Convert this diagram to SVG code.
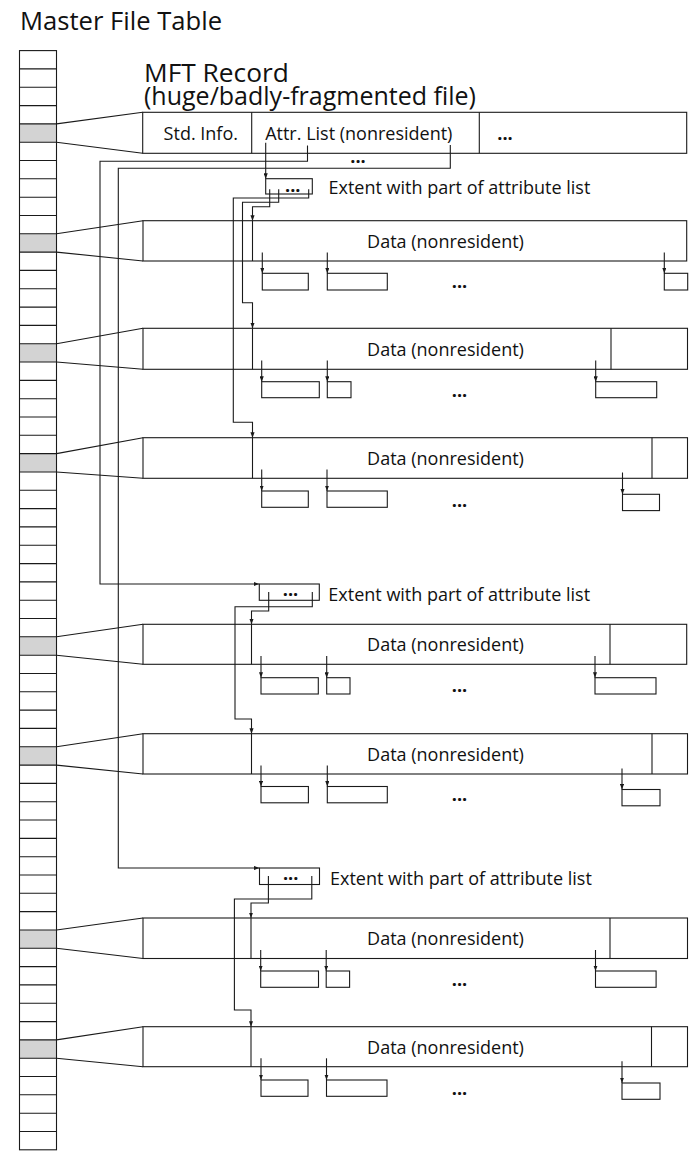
<svg xmlns="http://www.w3.org/2000/svg" width="698" height="1151" viewBox="0 0 698 1151">
  <defs>
    <style>
      .box { fill: #fff; stroke: #1a1a1a; stroke-width: 1.1; }
      .ln { fill: none; stroke: #1a1a1a; stroke-width: 1.1; }
      .arr { fill: none; stroke: #1a1a1a; stroke-width: 1.1; marker-end: url(#ah); }
      .slot { fill: #d3d3d3; }
      text { font-family: "Open Sans", "Noto Sans", "Liberation Sans", sans-serif; fill: #111; }
      .lbl { font-size: 18px; }
      .mid { text-anchor: middle; }
      .dots { font-size: 18px; font-weight: bold; text-anchor: middle; }
      .title { font-size: 25.6px; }
      .head { font-size: 26.3px; }
      .head2 { font-size: 25px; }
    </style>
    <marker id="ah" viewBox="0 0 8 6" refX="8" refY="3" markerWidth="5.5" markerHeight="4.2" markerUnits="userSpaceOnUse" orient="auto">
      <path d="M0,0 L8,3 L0,6 Z" fill="#1a1a1a"/>
    </marker>
  </defs>

  <rect width="698" height="1151" fill="#fff"/>

  <text class="title" x="20" y="30">Master File Table</text>

  <!-- MFT: 60 fixed-size record slots, shaded slots belong to the file -->
  <g id="mft-table">
    <rect class="slot" x="19.5" y="123.9" width="37" height="18.3"/>
    <rect class="slot" x="19.5" y="233.8" width="37" height="18.3"/>
    <rect class="slot" x="19.5" y="343.7" width="37" height="18.3"/>
    <rect class="slot" x="19.5" y="453.6" width="37" height="18.3"/>
    <rect class="slot" x="19.5" y="636.8" width="37" height="18.3"/>
    <rect class="slot" x="19.5" y="746.8" width="37" height="18.3"/>
    <rect class="slot" x="19.5" y="930" width="37" height="18.3"/>
    <rect class="slot" x="19.5" y="1039.9" width="37" height="18.3"/>
    <rect class="ln" x="19.5" y="50.6" width="37" height="1099.2"/>
    <path class="ln" d="M19.5,68.9H56.5M19.5,87.2H56.5M19.5,105.6H56.5M19.5,123.9H56.5M19.5,142.2H56.5M19.5,160.5H56.5M19.5,178.8H56.5M19.5,197.2H56.5M19.5,215.5H56.5M19.5,233.8H56.5M19.5,252.1H56.5M19.5,270.4H56.5M19.5,288.8H56.5M19.5,307.1H56.5M19.5,325.4H56.5M19.5,343.7H56.5M19.5,362H56.5M19.5,380.4H56.5M19.5,398.7H56.5M19.5,417H56.5M19.5,435.3H56.5M19.5,453.6H56.5M19.5,472H56.5M19.5,490.3H56.5M19.5,508.6H56.5M19.5,526.9H56.5M19.5,545.2H56.5M19.5,563.6H56.5M19.5,581.9H56.5M19.5,600.2H56.5M19.5,618.5H56.5M19.5,636.8H56.5M19.5,655.2H56.5M19.5,673.5H56.5M19.5,691.8H56.5M19.5,710.1H56.5M19.5,728.4H56.5M19.5,746.8H56.5M19.5,765.1H56.5M19.5,783.4H56.5M19.5,801.7H56.5M19.5,820H56.5M19.5,838.4H56.5M19.5,856.7H56.5M19.5,875H56.5M19.5,893.3H56.5M19.5,911.6H56.5M19.5,930H56.5M19.5,948.3H56.5M19.5,966.6H56.5M19.5,984.9H56.5M19.5,1003.2H56.5M19.5,1021.6H56.5M19.5,1039.9H56.5M19.5,1058.2H56.5M19.5,1076.5H56.5M19.5,1094.8H56.5M19.5,1113.2H56.5M19.5,1131.5H56.5"/>
  </g>

  <!-- base MFT record of the file -->
  <g id="mft-record">
    <text x="144" y="81.5"><tspan class="head">MFT Record</tspan><tspan class="head2" x="144" dy="23">(huge/badly-fragmented file)</tspan></text>
    <rect class="box" x="142.7" y="112.3" width="544" height="41"/>
    <line class="ln" x1="251.7" y1="112.3" x2="251.7" y2="153.3"/>
    <line class="ln" x1="479.3" y1="112.3" x2="479.3" y2="153.3"/>
    <text class="lbl mid" x="200.8" y="139.5">Std. Info.</text>
    <text class="lbl mid" x="358.8" y="139.5">Attr. List (nonresident)</text>
    <text class="dots" x="505" y="139.5">...</text>
    <text class="dots" x="358" y="162.5">...</text>
  </g>

  <!-- extents holding parts of the attribute list -->
  <g id="extent-1">
    <rect class="box" x="265.7" y="178.7" width="46.6" height="15.3"/>
    <text class="dots" x="292.8" y="191.5">...</text>
    <text class="lbl" x="328.5" y="194.3">Extent with part of attribute list</text>
  </g>
  <g id="extent-2">
    <rect class="box" x="259.3" y="584" width="60" height="16.3"/>
    <text class="dots" x="290.5" y="595.5">...</text>
    <text class="lbl" x="328.3" y="600.5">Extent with part of attribute list</text>
  </g>
  <g id="extent-3">
    <rect class="box" x="259.5" y="868" width="60" height="16.5"/>
    <text class="dots" x="290.6" y="879.8">...</text>
    <text class="lbl" x="330" y="884.5">Extent with part of attribute list</text>
  </g>

  <!-- data attribute records with their runs -->
  <g id="data-1">
    <rect class="box" x="143" y="220.7" width="543.7" height="40.3"/>
    <line class="ln" x1="252.5" y1="220.7" x2="252.5" y2="261"/>
    <text class="lbl mid" x="445.5" y="248">Data (nonresident)</text>
    <rect class="box" x="262.3" y="273.3" width="46" height="16.7"/>
    <rect class="box" x="327.3" y="273.3" width="60" height="16.7"/>
    <rect class="box" x="664.3" y="273.3" width="23.4" height="16.7"/>
    <text class="dots" x="459.5" y="288.2">...</text>
  </g>
  <g id="data-2">
    <rect class="box" x="143" y="328.3" width="544.5" height="41"/>
    <line class="ln" x1="252.5" y1="328.3" x2="252.5" y2="369.3"/>
    <line class="ln" x1="611" y1="328.3" x2="611" y2="369.3"/>
    <text class="lbl mid" x="445.5" y="355.8">Data (nonresident)</text>
    <rect class="box" x="261.7" y="381.7" width="57.6" height="16"/>
    <rect class="box" x="327.3" y="381.7" width="23.7" height="16"/>
    <rect class="box" x="595.7" y="381.7" width="61" height="16"/>
    <text class="dots" x="459.5" y="396.5">...</text>
  </g>
  <g id="data-3">
    <rect class="box" x="143" y="437.7" width="544.5" height="40.6"/>
    <line class="ln" x1="252.5" y1="437.7" x2="252.5" y2="478.3"/>
    <line class="ln" x1="652" y1="437.7" x2="652" y2="478.3"/>
    <text class="lbl mid" x="445.5" y="465">Data (nonresident)</text>
    <rect class="box" x="261.7" y="491" width="46.6" height="16.3"/>
    <rect class="box" x="327" y="491" width="60.3" height="16.3"/>
    <rect class="box" x="622.5" y="494.3" width="37" height="16.3"/>
    <text class="dots" x="459.5" y="506.5">...</text>
  </g>
  <g id="data-4">
    <rect class="box" x="143" y="624.3" width="543.7" height="40"/>
    <line class="ln" x1="251.5" y1="624.3" x2="251.5" y2="664.3"/>
    <line class="ln" x1="610" y1="624.3" x2="610" y2="664.3"/>
    <text class="lbl mid" x="445.5" y="651.3">Data (nonresident)</text>
    <rect class="box" x="261" y="677.7" width="57.3" height="16.3"/>
    <rect class="box" x="326.7" y="677.7" width="23.3" height="16.3"/>
    <rect class="box" x="595" y="677.7" width="61" height="16.3"/>
    <text class="dots" x="459.5" y="691.5">...</text>
  </g>
  <g id="data-5">
    <rect class="box" x="143" y="733.7" width="544.5" height="40.3"/>
    <line class="ln" x1="251.5" y1="733.7" x2="251.5" y2="774"/>
    <line class="ln" x1="652" y1="733.7" x2="652" y2="774"/>
    <text class="lbl mid" x="445.5" y="761">Data (nonresident)</text>
    <rect class="box" x="261" y="786.5" width="47.4" height="16.3"/>
    <rect class="box" x="327.3" y="786.5" width="60" height="16.3"/>
    <rect class="box" x="622" y="789.5" width="38" height="16.3"/>
    <text class="dots" x="459.5" y="800.8">...</text>
  </g>
  <g id="data-6">
    <rect class="box" x="143" y="918" width="544.5" height="40.5"/>
    <line class="ln" x1="251" y1="918" x2="251" y2="958.5"/>
    <line class="ln" x1="610" y1="918" x2="610" y2="958.5"/>
    <text class="lbl mid" x="445.5" y="945.3">Data (nonresident)</text>
    <rect class="box" x="260.7" y="971" width="57.8" height="16.3"/>
    <rect class="box" x="326.2" y="971" width="23.4" height="16.3"/>
    <rect class="box" x="595.5" y="971" width="60.6" height="16.3"/>
    <text class="dots" x="459.5" y="985.5">...</text>
  </g>
  <g id="data-7">
    <rect class="box" x="143" y="1026.7" width="544.5" height="40"/>
    <line class="ln" x1="251" y1="1026.7" x2="251" y2="1066.7"/>
    <line class="ln" x1="651.5" y1="1026.7" x2="651.5" y2="1066.7"/>
    <text class="lbl mid" x="445.5" y="1053.7">Data (nonresident)</text>
    <rect class="box" x="261" y="1080" width="47" height="16.3"/>
    <rect class="box" x="326.5" y="1080" width="60.5" height="16.3"/>
    <rect class="box" x="622" y="1083" width="38" height="16.3"/>
    <text class="dots" x="459.5" y="1095">...</text>
  </g>

  <g id="connectors">
    <!-- MFT slots fanning out to the records they hold -->
    <path class="ln" d="M56.5,123.9L142.7,112.3M56.5,142.2L142.7,153.3"/>
    <path class="ln" d="M56.5,233.8L143,220.7M56.5,252.1L143,261"/>
    <path class="ln" d="M56.5,343.7L143,328.3M56.5,362L143,369.3"/>
    <path class="ln" d="M56.5,453.6L143,437.7M56.5,472L143,478.3"/>
    <path class="ln" d="M56.5,636.8L143,624.3M56.5,655.2L143,664.3"/>
    <path class="ln" d="M56.5,746.8L143,733.7M56.5,765.1L143,774"/>
    <path class="ln" d="M56.5,930L143,918M56.5,948.3L143,958.5"/>
    <path class="ln" d="M56.5,1039.9L143,1026.7M56.5,1058.2L143,1066.7"/>

    <!-- attribute list to its extents -->
    <path class="arr" d="M265.7,142.7V178.7"/>
    <path class="arr" d="M307.5,145.5V161.3H100V584H259.3"/>
    <path class="arr" d="M450.3,145V168.3H118.3V868H259.5"/>

    <!-- extent entries to data records -->
    <path class="arr" d="M269.7,189.3V206.7H252.5V220.7"/>
    <path class="arr" d="M278.7,189.3V202.3H242.5V302.7H252.5V328.3"/>
    <path class="arr" d="M308.7,189.3V198H233.3V422.3H252.5V437.7"/>
    <path class="arr" d="M268.7,592V611H251.5V624.3"/>
    <path class="arr" d="M312.3,592V606.7H235V719H251.5V733.7"/>
    <path class="arr" d="M268.4,876V903H251V918"/>
    <path class="arr" d="M311.8,876V899H234.4V1010H251V1026.7"/>

    <!-- data runs -->
    <path class="arr" d="M262.3,252.5V273.3"/>
    <path class="arr" d="M327.3,252.5V273.3"/>
    <path class="arr" d="M664.3,252.5V273.3"/>
    <path class="arr" d="M261.7,360.5V381.7"/>
    <path class="arr" d="M327.3,360.5V381.7"/>
    <path class="arr" d="M595.7,360.5V381.7"/>
    <path class="arr" d="M261.7,469.5V491"/>
    <path class="arr" d="M327,469.5V491"/>
    <path class="arr" d="M622.5,472.5V494.3"/>
    <path class="arr" d="M261,656V677.7"/>
    <path class="arr" d="M326.7,656V677.7"/>
    <path class="arr" d="M595,656V677.7"/>
    <path class="arr" d="M261,765.5V786.5"/>
    <path class="arr" d="M327.3,765.5V786.5"/>
    <path class="arr" d="M622,768.5V789.5"/>
    <path class="arr" d="M260.7,950V971"/>
    <path class="arr" d="M326.2,950V971"/>
    <path class="arr" d="M595.5,950V971"/>
    <path class="arr" d="M261,1058.3V1080"/>
    <path class="arr" d="M326.5,1058.3V1080"/>
    <path class="arr" d="M622,1061.3V1083"/>
  </g>
</svg>
